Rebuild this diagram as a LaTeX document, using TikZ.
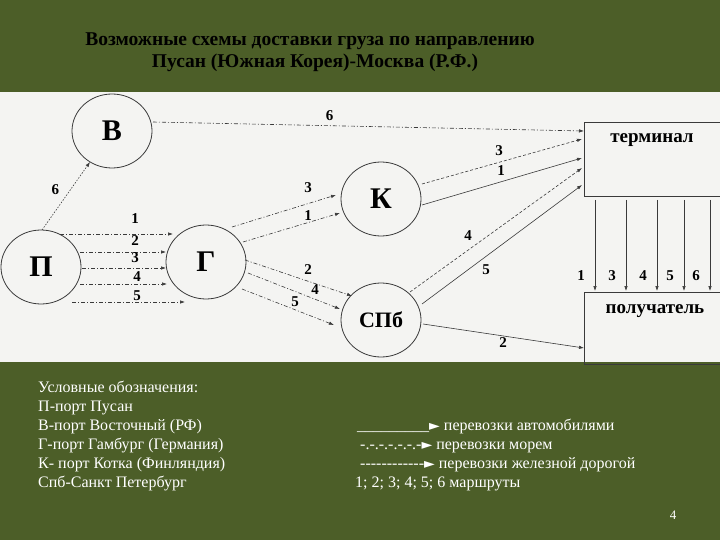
\documentclass[tikz,border=0pt]{standalone}
\usepackage{fontspec}
\setmainfont{Liberation Serif}
\newfontfamily\symfont{DejaVu Sans}
\usetikzlibrary{arrows.meta,shapes.geometric}
\definecolor{bg}{HTML}{4C5E28}
\definecolor{panel}{HTML}{F4F4F2}
\definecolor{ink}{HTML}{3A3A3A}
\tikzset{
  port/.style={draw=ink,ellipse,line width=0.8pt,minimum width=80pt,minimum height=74pt,font=\bfseries\fontsize{30}{30}\selectfont},
  boxn/.style={draw=ink,line width=0.8pt,minimum width=136pt,minimum height=74pt,anchor=north west},
  rt/.style={draw=ink,line width=0.6pt,-{Latex[length=5pt,width=3.5pt]}},
  sea/.style={rt,dash pattern=on 4pt off 2pt on 1pt off 2pt},
  rail/.style={rt,dash pattern=on 3pt off 2pt},
  auto/.style={rt},
  num/.style={font=\bfseries\fontsize{15}{15}\selectfont},
  leg/.style={text=white,font=\fontsize{16}{16}\selectfont,anchor=base west,inner sep=0}
}
\newcommand{\tri}{{\symfont\fontsize{14}{14}\selectfont ►}}
\begin{document}
\begin{tikzpicture}[x=1pt,y=-1pt]
\fill[bg] (0,0) rectangle (720,540);
\fill[panel] (0,92) rectangle (720,362);
\useasboundingbox (0,0) rectangle (720,540);
\node[font=\bfseries\fontsize{19.5}{20}\selectfont] (t1) at (310,41) {Возможные схемы доставки груза по направлению};
\node[font=\bfseries\fontsize{19.5}{20}\selectfont] (t2) at (315,63) {Пусан (Южная Корея)-Москва (Р.Ф.)};
% ports
\node[port] (B) at (112,131) {В};
\node[port] (P) at (41,267) {П};
\node[port] (G) at (206,262) {Г};
\node[port] (K) at (381,199) {К};
\node[port,font=\bfseries\fontsize{22}{22}\selectfont] (S) at (381,320) {СПб};
\node[boxn] (T) at (584,122) {};
\node[font=\bfseries\fontsize{19}{19}\selectfont] (Tt) at (652,140) {терминал};
\node[boxn,minimum height=72pt] (R) at (584,292) {};
\node[font=\bfseries\fontsize{19}{19}\selectfont] (Rt) at (655,311) {получатель};
% coordinates
\coordinate (b1) at (153,122); \coordinate (te6) at (584,131);
\coordinate (p0) at (42,230); \coordinate (b0) at (90,162);
\foreach \i/\y/\xs/\xe in {1/234/60/173,2/252/80/166,3/268/82/166,4/284/80/167,5/302/72/185}{
  \coordinate (ps\i) at (\xs,\y); \coordinate (ge\i) at (\xe,\y);}
\coordinate (g3) at (232,227); \coordinate (k3) at (336,195);
\coordinate (g1) at (243,242); \coordinate (k1) at (340,213);
\coordinate (g2) at (245,260); \coordinate (s2) at (352,296);
\coordinate (g4) at (248,273); \coordinate (s4) at (340,309);
\coordinate (g5) at (242,289); \coordinate (s5) at (334,325);
\coordinate (kk3) at (422,184); \coordinate (te3) at (582,139);
\coordinate (kk1) at (422,205); \coordinate (te1) at (582,158);
\coordinate (ss4) at (410,292); \coordinate (te4) at (582,168);
\coordinate (ss5) at (422,304); \coordinate (te5) at (582,185);
\coordinate (ss2) at (423,324); \coordinate (re2) at (584,348);
% routes
\draw[sea] (b1) -- (te6) node[num,pos=0.41,above=1pt] {6};
\draw[rail,dash pattern=on 1.5pt off 1.5pt] (p0) -- (b0) node[num,pos=0.6,left=8pt] {6};
\draw[sea] (ps1) -- (ge1); \node[num] (l1) at (135,219) {1};
\draw[sea] (ps2) -- (ge2); \node[num] (l2) at (135,241) {2};
\draw[sea] (ps3) -- (ge3); \node[num] (l3) at (135,258) {3};
\draw[sea] (ps4) -- (ge4); \node[num] (l4) at (137,277) {4};
\draw[sea] (ps5) -- (ge5); \node[num] (l5) at (137,296) {5};
\draw[sea] (g3) -- (k3); \node[num] (m3) at (308,188) {3};
\draw[sea] (g1) -- (k1); \node[num] (m1) at (308,216) {1};
\draw[sea] (g2) -- (s2); \node[num] (m2) at (308,270) {2};
\draw[sea] (g4) -- (s4); \node[num] (m4) at (315,290) {4};
\draw[sea] (g5) -- (s5); \node[num] (m5) at (295,302) {5};
\draw[rail] (kk3) -- (te3); \node[num] (n3) at (499,151) {3};
\draw[auto] (kk1) -- (te1); \node[num] (n1) at (501,171) {1};
\draw[rail] (ss4) -- (te4); \node[num] (n4) at (468,236) {4};
\draw[auto] (ss5) -- (te5); \node[num] (n5) at (486,270) {5};
\draw[auto] (ss2) -- (re2); \node[num] (n2) at (503,343) {2};
\foreach \x/\l in {595/1,626/3,657/4,684/5,710/6}{
  \coordinate (ta\l) at (\x,200); \coordinate (rb\l) at (\x,291);
  \draw[auto] (ta\l) -- (rb\l);
  \node[num] (v\l) at (\x-14,276) {\l};}
% legend
\node[leg] (g0) at (38,392) {Условные обозначения:};
\node[leg] (ga) at (38,411) {П-порт Пусан};
\node[leg] (gb) at (38,430) {В-порт Восточный (РФ)};
\node[leg] (gc) at (38,449) {Г-порт Гамбург (Германия)};
\node[leg] (gd) at (38,468) {К- порт Котка (Финляндия)};
\node[leg] (ge) at (38,487) {Спб-Санкт Петербург};
\node[leg] (ra) at (357,430) {\_\_\_\_\_\_\_\_\_\tri{} перевозки автомобилями};
\node[leg] (rb) at (360,449) {-.-.-.-.-.-.-\tri{} перевозки морем};
\node[leg] (rc) at (360,468) {-{}-{}-{}-{}-{}-{}-{}-{}-{}-{}-{}-\tri{} перевозки железной дорогой};
\node[leg] (rd) at (355,487) {1; 2; 3; 4; 5; 6 маршруты};
\node[text=white,font=\fontsize{13}{13}\selectfont] (pg) at (673,515) {4};
\end{tikzpicture}
\end{document}
